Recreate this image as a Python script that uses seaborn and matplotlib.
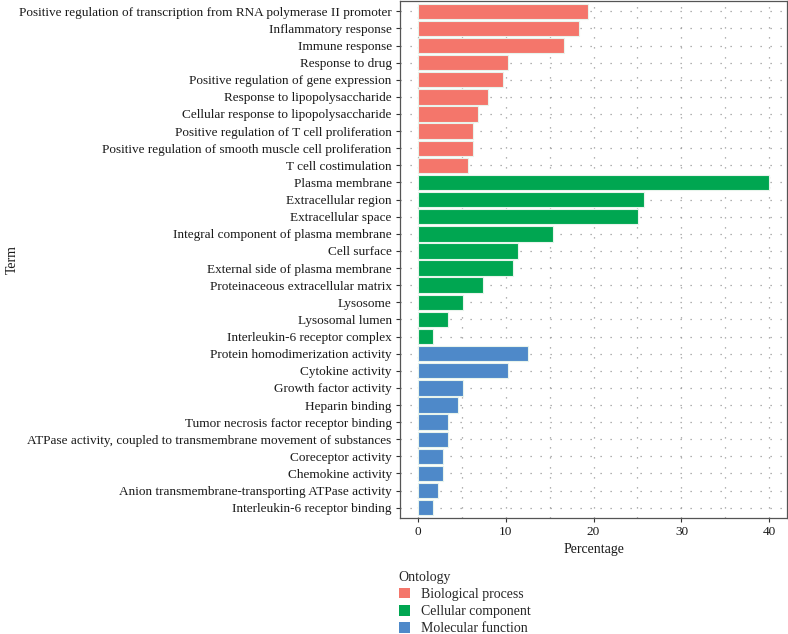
import pandas as pd
import matplotlib
matplotlib.use("Agg")
import matplotlib.pyplot as plt
import seaborn as sns
from matplotlib.patches import Patch
from matplotlib.ticker import MultipleLocator

terms = [
    "Positive regulation of transcription from RNA polymerase II promoter",
    "Inflammatory response",
    "Immune response",
    "Response to drug",
    "Positive regulation of gene expression",
    "Response to lipopolysaccharide",
    "Cellular response to lipopolysaccharide",
    "Positive regulation of T cell proliferation",
    "Positive regulation of smooth muscle cell proliferation",
    "T cell costimulation",
    "Plasma membrane",
    "Extracellular region",
    "Extracellular space",
    "Integral component of plasma membrane",
    "Cell surface",
    "External side of plasma membrane",
    "Proteinaceous extracellular matrix",
    "Lysosome",
    "Lysosomal lumen",
    "Interleukin-6 receptor complex",
    "Protein homodimerization activity",
    "Cytokine activity",
    "Growth factor activity",
    "Heparin binding",
    "Tumor necrosis factor receptor binding",
    "ATPase activity, coupled to transmembrane movement of substances",
    "Coreceptor activity",
    "Chemokine activity",
    "Anion transmembrane-transporting ATPase activity",
    "Interleukin-6 receptor binding",
]
percentage = [
    19.4, 18.3, 16.6, 10.3, 9.7, 8.0, 6.9, 6.3, 6.3, 5.7,
    40.0, 25.7, 25.1, 15.4, 11.4, 10.9, 7.4, 5.2, 3.5, 1.7,
    12.6, 10.3, 5.2, 4.6, 3.5, 3.5, 2.9, 2.9, 2.3, 1.7,
]
ontology = (["Biological process"] * 10 + ["Cellular component"] * 10
            + ["Molecular function"] * 10)
ontology_names = ["Biological process", "Cellular component", "Molecular function"]
palette = ["#F4766B", "#00A651", "#4E89C9"]

df = pd.DataFrame({"Term": terms, "Percentage": percentage, "Ontology": ontology})

sns.set_style("white")
plt.rcParams["font.family"] = ["Liberation Serif", "DejaVu Serif"]

fig = plt.figure(figsize=(7.88, 6.34), dpi=100)
ax = fig.add_axes([400 / 788, 1 - 518 / 634, 387 / 788, 517 / 634])

sns.barplot(data=df, x="Percentage", y="Term", hue="Ontology",
            hue_order=ontology_names, palette=palette, dodge=False,
            width=0.9, order=terms, orient="h", ax=ax, legend=False,
            edgecolor="#e8f4ec", linewidth=0.8, saturation=1)

ax.set_xlim(-2, 42)
ax.set_ylim(len(terms) - 0.4, -0.6)
ax.xaxis.set_major_locator(MultipleLocator(10))
ax.xaxis.set_minor_locator(MultipleLocator(5))
ax.set_axisbelow(True)
dots = (0, (1, 7))
ax.grid(which="major", axis="both", color="#999999", linestyle=dots, linewidth=0.9)
ax.grid(which="minor", axis="x", color="#999999", linestyle=dots, linewidth=0.9)

for s in ax.spines.values():
    s.set_color("#555555")
    s.set_linewidth(0.9)

ax.tick_params(axis="both", which="major", length=3, color="#333333",
               labelsize=9.5, labelcolor="#1a1a1a", direction="out",
               left=True, bottom=True, pad=3)
ax.tick_params(axis="x", which="minor", length=0)
ax.set_xlabel("Percentage", fontsize=10, color="#1a1a1a", labelpad=3)
ax.set_ylabel("Term", fontsize=10, color="#1a1a1a")
ax.yaxis.set_label_coords(-0.985, 0.5)

handles = [Patch(facecolor=c, edgecolor="none") for c in palette]
fig.legend(handles, ontology_names, title="Ontology", loc="upper left",
           bbox_to_anchor=(393 / 788, 1 - 565 / 634), frameon=False,
           fontsize=10, title_fontsize=10, handlelength=0.8, handleheight=0.8,
           handletextpad=0.8, labelspacing=0.3, alignment="left",
           borderaxespad=0)

fig.savefig("out.png", dpi=100)
